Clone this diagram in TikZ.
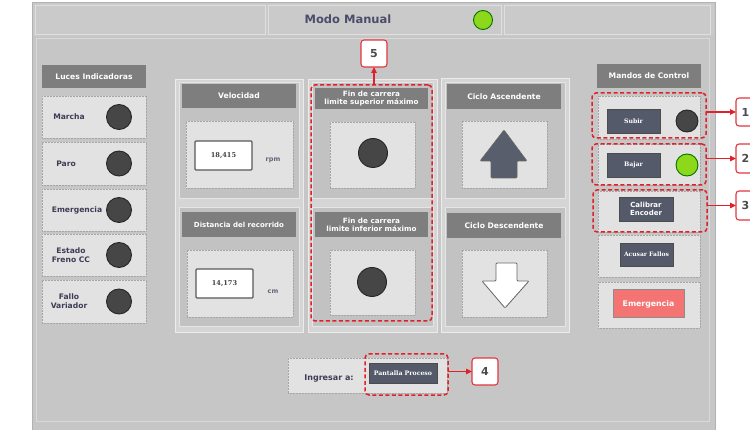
\documentclass[tikz,border=0pt]{standalone}
\usepackage{fontspec}
\setmainfont{DejaVu Sans}
\newfontfamily\serifb{DejaVu Serif}
\usetikzlibrary{arrows.meta}
\definecolor{bodybg}{HTML}{C6C6C6}
\definecolor{barbg}{HTML}{CACACA}
\definecolor{pnl}{HTML}{D5D5D5}
\definecolor{subp}{HTML}{C2C2C2}
\definecolor{inb}{HTML}{E2E2E2}
\definecolor{hdr}{HTML}{7E7E7E}
\definecolor{lbl}{HTML}{3C3C55}
\definecolor{btn}{HTML}{555A6B}
\definecolor{lampc}{HTML}{464646}
\definecolor{greenl}{HTML}{8ED81C}
\definecolor{redd}{HTML}{E0202A}
\definecolor{emerg}{HTML}{F47474}
\newcommand\bx[7]{\node[#6, minimum width={#4pt-#2pt}, minimum height={#5pt-#3pt}, inner sep=0pt, outer sep=0pt] (#1) at ({(#2+#4)/2},{(#3+#5)/2}) {#7};}
\tikzset{
  x=1pt, y=-1pt,
  panel/.style={fill=pnl, draw=white!85!gray, line width=0.6pt},
  subpanel/.style={fill=subp, draw=white!80!gray, line width=0.5pt},
  header/.style={fill=hdr, text=white, font=\fontsize{7.6}{8.5}\selectfont\bfseries, align=center},
  inbox/.style={fill=inb, draw=gray!70, densely dotted, line width=0.5pt},
  valbox/.style={fill=white, draw=black!65, line width=1.4pt, rounded corners=1pt, font=\serifb\fontsize{6.6}{7}\selectfont\bfseries, text=black!75},
  unit/.style={font=\fontsize{6.5}{7}\selectfont\bfseries, text=lbl!80},
  lamp/.style={circle, fill=lampc, draw=black!85, line width=0.9pt, inner sep=0pt},
  glamp/.style={circle, fill=greenl, draw=green!45!black, line width=0.9pt, inner sep=0pt},
  lab/.style={font=\fontsize{7.6}{8.8}\selectfont\bfseries, text=lbl, align=center},
  button/.style={fill=btn, draw=black!70, line width=0.5pt, text=white, font=\fontsize{6}{7}\selectfont\bfseries, align=center},
  redbox/.style={draw=redd, dash pattern=on 4pt off 2.5pt, line width=1.5pt, rounded corners=4pt},
  callout/.style={fill=white, draw=redd!90, line width=1.1pt, rounded corners=3pt, text=black!70, font=\fontsize{11}{12}\selectfont\bfseries},
  conn/.style={draw=redd, line width=1.1pt, -{Triangle[length=6pt,width=5.5pt]}}
}
\begin{document}
\begin{tikzpicture}
\useasboundingbox (0,0) rectangle (750,430);
\clip (0,0) rectangle (750,430);
% outer frame
\bx{frame}{32}{2}{715}{430}{fill=bodybg, draw=gray!60}{}
\bx{topbar}{33}{3}{714}{36}{fill=barbg}{}
\bx{topL}{35}{5}{265}{34}{fill=barbg, draw=white!75!gray, line width=0.8pt}{}
\bx{topM}{268}{5}{501}{34}{fill=barbg, draw=white!75!gray, line width=0.8pt}{}
\bx{topR}{504}{5}{710}{34}{fill=barbg, draw=white!75!gray, line width=0.8pt}{}
\node[font=\fontsize{11.5}{12}\selectfont\bfseries, text=black!70!blue!40!gray] (title) at (348,19.5) {Modo Manual};
\node[glamp, minimum size=19pt] (tlamp) at (483,20) {};
\bx{body}{36}{38}{709}{421}{fill=bodybg, draw=white!70!gray, line width=0.8pt}{}

% left column
\bx{lhead}{42}{65}{146}{88}{header}{Luces Indicadoras}
\bx{r1}{42}{96}{146}{138}{inbox}{}
\bx{r2}{42}{142}{146}{185}{inbox}{}
\bx{r3}{42}{189}{146}{231}{inbox}{}
\bx{r4}{42}{234}{146}{276}{inbox}{}
\bx{r5}{42}{280}{146}{323}{inbox}{}
\node[lab] (t1) at (69,117) {Marcha};
\node[lab] (t2) at (66,163.5) {Paro};
\node[lab] (t3) at (77,210) {Emergencia};
\node[lab] (t4) at (71,255) {Estado\\Freno CC};
\node[lab] (t5) at (69,301.5) {Fallo\\Variador};
\node[lamp, minimum size=25pt] (lp1) at (119,117) {};
\node[lamp, minimum size=25pt] (lp2) at (119,163.5) {};
\node[lamp, minimum size=25pt] (lp3) at (119,210) {};
\node[lamp, minimum size=25pt] (lp4) at (119,255) {};
\node[lamp, minimum size=25pt] (lp5) at (119,301.5) {};

% panel A
\bx{pa}{175}{79}{303}{332}{panel}{}
\bx{pa1}{179}{82}{299}{198}{subpanel}{}
\bx{ha1}{182}{84}{296}{108}{header}{Velocidad}
\bx{ia1}{186}{121}{293}{188}{inbox}{}
\bx{v1}{195}{141}{252}{170}{valbox}{18,415}
\node[unit] (u1) at (273,160) {rpm};
\bx{pa2}{179}{207}{299}{326}{subpanel}{}
\bx{ha2}{182}{212}{296}{237}{header, font=\fontsize{7}{8}\selectfont\bfseries}{Distancia del recorrido}
\bx{ia2}{187}{250}{293}{317}{inbox}{}
\bx{v2}{196}{269}{253}{298}{valbox}{14,173}
\node[unit] (u2) at (273,292) {cm};

% panel B
\bx{pb}{308}{79}{437}{332}{panel}{}
\bx{pb1}{312}{82}{433}{198}{subpanel}{}
\bx{hb1}{315}{88}{428}{109}{header, font=\fontsize{7.2}{8}\selectfont\bfseries}{Fin de carrera\\limite superior máximo}
\bx{ib1}{330}{122}{415}{188}{inbox}{}
\node[lamp, minimum size=29pt] (lb1) at (373,153) {};
\bx{pb2}{312}{207}{433}{326}{subpanel}{}
\bx{hb2}{315}{212}{428}{237}{header, font=\fontsize{7.2}{8}\selectfont\bfseries}{Fin de carrera\\limite inferior máximo}
\bx{ib2}{330}{250}{415}{315}{inbox}{}
\node[lamp, minimum size=29pt] (lb2) at (372,282) {};
\bx{d5}{311}{85}{432}{321}{redbox}{}
\bx{c5}{361}{40}{387}{67}{callout}{5}

% panel C
\bx{pc}{441}{78}{569}{332}{panel}{}
\bx{pc1}{445}{82}{565}{198}{subpanel}{}
\bx{hc1}{447}{84}{561}{109}{header}{Ciclo Ascendente}
\bx{ic1}{462}{121}{547}{188}{inbox}{}
\bx{pc2}{445}{207}{565}{326}{subpanel}{}
\bx{hc2}{447}{213}{561}{238}{header}{Ciclo Descendente}
\bx{ic2}{462}{250}{547}{317}{inbox}{}
\draw[fill=btn!90!gray, draw=black!60, line width=0.6pt, rounded corners=1pt]
  (504,130) -- (527,161) -- (517,161) -- (517,178) -- (491,178) -- (491,161) -- (480,161) -- cycle;
\draw[fill=white, draw=black!60, line width=0.8pt, rounded corners=1pt]
  (496,263) -- (517,263) -- (517,281) -- (529,281) -- (505,308) -- (482,281) -- (496,281) -- cycle;

% right column
\bx{rhead}{597}{64}{701}{88}{header}{Mandos de Control}
\bx{m1}{598}{96}{700}{139}{inbox}{}
\bx{m2}{598}{144}{700}{185}{inbox}{}
\bx{m3}{598}{191}{700}{232}{inbox}{}
\bx{m4}{598}{235}{700}{277}{inbox}{}
\bx{m5}{598}{282}{700}{328}{inbox}{}
\bx{bs}{607}{109}{660}{133}{button, font=\serifb\fontsize{6.2}{7}\selectfont\bfseries}{Subir}
\node[lamp, minimum size=22pt] (ml1) at (687,121) {};
\bx{bb}{607}{153}{660}{177}{button, font=\serifb\fontsize{6.2}{7}\selectfont\bfseries}{Bajar}
\node[glamp, minimum size=22pt] (ml2) at (687,165) {};
\bx{bc}{619}{197}{673}{221}{button, font=\fontsize{7}{8}\selectfont\bfseries}{Calibrar\\Encoder}
\bx{ba}{620}{243}{673}{266}{button, font=\serifb\fontsize{6}{7}\selectfont\bfseries}{Acusar Fallos}
\bx{be}{613}{290}{684}{318}{button, fill=emerg, draw=black!45, line width=1pt, font=\fontsize{7.8}{8.5}\selectfont\bfseries}{Emergencia}
\bx{d1}{592}{93}{706}{138}{redbox}{}
\bx{d2}{592}{144}{706}{185}{redbox}{}
\bx{d3}{593}{190}{707}{232}{redbox}{}
\bx{c1}{736}{98}{762}{126}{callout}{\hspace*{-7pt}1}
\bx{c2}{736}{144}{762}{173}{callout}{\hspace*{-7pt}2}
\bx{c3}{736}{191}{762}{220}{callout}{\hspace*{-7pt}3}

% bottom
\bx{ing}{288}{358}{447}{393}{inbox}{}
\node[lab, font=\fontsize{8}{9}\selectfont\bfseries] (ingt) at (329,378) {Ingresar a:};
\bx{bp}{369}{363}{437}{383}{button, font=\serifb\fontsize{6.2}{7}\selectfont\bfseries}{Pantalla Proceso}
\bx{d4}{365}{354}{448}{395}{redbox}{}
\bx{c4}{472}{358}{498}{385}{callout}{4}

% connectors
\draw[conn] (d1.east |- c1.west) -- (c1.west);
\draw[conn] (d2.east |- c2.west) -- (c2.west);
\draw[conn] (d3.east |- c3.west) -- (c3.west);
\draw[conn] (d4.east |- c4.west) -- (c4.west);
\draw[conn] (c5.south |- d5.north) -- (c5.south);
\end{tikzpicture}
\end{document}
